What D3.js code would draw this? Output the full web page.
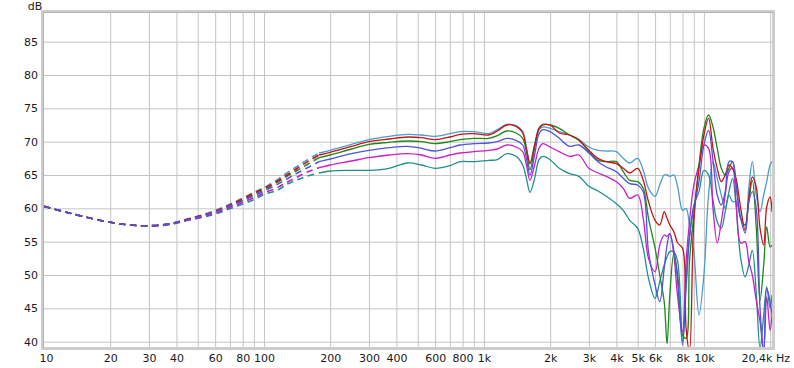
<!DOCTYPE html>
<html lang="en">
  <head>
    <meta charset="UTF-8" />
    <title>Frequency response</title>
    <style>
      body {
        margin: 0;
        background: #fff;
      }
      #chart text {
        font-family: "DejaVu Sans", Verdana, sans-serif;
        font-size: 11px;
        fill: #1a1a1a;
      }
    </style>
  </head>
  <body>
    <div id="chart"></div>

    <script src="https://d3js.org/d3.v7.min.js"></script>
    <script>
      // frequency points (Hz), shared by all curves
      const freqs = [
        10, 12, 15, 20, 27, 36, 45, 58, 72, 90, 100, 115, 127, 140, 156, 178,
        200, 250, 300, 370, 450, 520, 600, 700, 780, 900, 1050, 1150, 1270, 1400, 1500,
        1560, 1620, 1700, 1780, 1850, 2000, 2200,
        2450, 2700, 3000, 3300,
        3600, 4000, 4300, 4600, 5000,
        5300, 5600, 6000, 6300, 6600, 6800,
        7000, 7300, 7600, 8000, 8300, 8600,
        9000, 9500, 10000, 10500, 11000,
        11500, 12000, 12500, 13000, 13500,
        14000, 14700, 15400, 16000, 16600,
        17300, 18000, 18700, 19300, 20000,
        20400,
      ];
      // below this the curves are drawn dashed
      const dashedUpTo = 178;

      // dB values per curve
      const lightBlue = [
        60.3, 59.6, 58.8, 57.9, 57.4, 57.6, 58.4, 59.5, 60.8, 62.4, 63.1, 64.3, 65.3, 66.2, 67.2, 68.3,
        68.7, 69.6, 70.3, 70.8, 71.1, 71.0, 70.8, 71.2, 71.5, 71.5, 71.2, 71.8, 72.6, 72.4, 71.6,
        69.0, 66.8, 69.5, 71.8, 72.2, 72.0, 71.5,
        71.0, 70.3, 69.2, 68.7,
        68.6, 68.5, 67.5, 66.8, 67.5,
        65.7, 63.0, 61.8, 63.5, 65.0, 65.0,
        64.8, 65.0, 63.2, 59.7, 60.0, 57.5,
        53.5, 44.0, 50.0, 62.0, 67.0,
        64.5, 62.0, 60.0, 62.0, 61.0,
        61.0, 58.5, 57.5, 63.0, 67.0,
        62.0, 59.5, 62.0, 64.0, 66.5,
        67.0,
      ];
      const red = [
        60.3, 59.6, 58.8, 57.9, 57.4, 57.6, 58.4, 59.4, 60.7, 62.3, 63.0, 64.1, 65.0, 65.9, 66.9, 68.0,
        68.4, 69.3, 70.0, 70.4, 70.7, 70.6, 70.3, 70.7, 71.1, 71.2, 71.0, 71.6, 72.5, 72.3, 71.3,
        69.0, 66.7, 69.5, 72.0, 72.5, 72.5, 71.3,
        71.0, 70.3, 68.7, 67.5,
        67.0, 66.7, 66.0, 65.3, 66.0,
        64.2, 61.0, 58.2, 57.5, 59.5, 58.5,
        57.5, 56.5, 54.8, 54.0, 42.0, 38.5,
        58.0, 66.0, 71.0, 73.5, 69.0,
        66.0, 64.0, 65.0, 66.5, 66.0,
        64.5, 60.0, 56.7, 61.5, 64.7,
        63.2, 57.0, 54.5, 60.2, 61.7,
        59.5,
      ];
      const green = [
        60.3, 59.6, 58.8, 57.9, 57.4, 57.6, 58.3, 59.4, 60.6, 62.1, 62.8, 63.9, 64.8, 65.6, 66.5, 67.6,
        68.0, 68.9, 69.6, 69.9, 70.1, 70.0, 69.7, 70.0, 70.3, 70.5, 70.5, 70.9, 71.6, 71.3, 70.5,
        68.5, 65.8, 69.0, 72.0, 72.6, 72.5, 72.0,
        71.0, 70.2, 68.5, 67.2,
        67.0, 67.0, 65.5, 64.2, 64.0,
        63.0, 58.5, 54.0, 50.0, 46.0, 39.7,
        47.0, 53.2, 50.0, 41.0, 40.5, 52.0,
        59.0, 66.5, 72.0, 74.0, 72.2,
        69.0, 66.0, 65.0, 66.0, 67.0,
        64.0, 58.5, 57.5, 61.0, 64.2,
        57.2, 46.2, 51.5, 57.2, 54.2,
        54.5,
      ];
      const blue = [
        60.3, 59.6, 58.8, 57.9, 57.4, 57.6, 58.3, 59.3, 60.5, 61.9, 62.6, 63.6, 64.4, 65.2, 66.0, 67.0,
        67.4, 68.2, 68.7, 69.1, 69.3, 69.0, 68.6, 69.1, 69.5, 69.7, 69.8, 70.0, 70.5, 70.2, 69.5,
        67.5, 65.0, 68.0, 71.2, 71.8, 71.5, 70.5,
        69.3, 69.5, 68.3, 67.0,
        66.2, 65.5, 64.5, 63.7, 63.5,
        62.5, 53.5, 48.5, 46.0, 51.0, 54.5,
        56.2, 53.7, 49.0, 39.5, 49.0, 56.0,
        60.0, 64.0, 69.5, 71.7, 67.2,
        62.0, 60.5, 62.5, 67.0, 67.0,
        63.5, 58.5, 56.3, 61.0, 62.5,
        60.0, 45.0, 38.5, 48.0, 46.0,
        44.0,
      ];
      const magenta = [
        60.3, 59.6, 58.8, 57.9, 57.4, 57.5, 58.2, 59.1, 60.3, 61.6, 62.3, 63.1, 63.9, 64.6, 65.4, 66.1,
        66.5, 67.1, 67.6, 68.0, 68.2, 68.0, 67.5, 68.0, 68.3, 68.5, 68.7, 68.9, 69.5, 69.2, 68.5,
        66.5, 64.2, 66.5, 69.0, 69.7, 69.2, 68.5,
        67.8, 68.0, 66.0, 65.3,
        64.8, 64.0, 63.0, 61.5, 62.0,
        58.5, 52.5, 50.5, 54.5, 56.0, 55.8,
        56.2, 53.0, 46.7, 41.5, 52.0, 58.0,
        63.5, 66.5, 69.5, 69.0, 60.0,
        54.8, 58.0, 62.0, 65.5, 66.0,
        61.0, 54.8, 55.0, 52.0, 50.0,
        46.2, 43.0, 38.5, 46.7, 41.7,
        44.0,
      ];
      const teal = [
        60.3, 59.6, 58.8, 57.9, 57.4, 57.5, 58.2, 59.0, 60.1, 61.3, 62.1, 62.7, 63.6, 64.2, 64.8, 65.3,
        65.6, 65.7, 65.7, 66.0, 66.8, 66.5, 66.0, 66.4, 67.0, 67.0, 67.2, 67.3, 68.2, 67.8, 66.5,
        64.5, 62.4, 64.5, 67.3, 67.8, 67.3, 66.0,
        65.2, 64.8, 63.3, 62.6,
        61.8, 60.7, 59.7, 58.2, 57.0,
        54.0, 49.5, 46.5, 49.0, 51.5, 52.7,
        53.5, 53.5, 52.0, 40.0, 48.0, 55.5,
        60.5, 62.5, 65.7, 65.0, 61.2,
        58.0, 57.0, 59.5, 62.5, 64.5,
        60.5, 52.5, 49.7, 51.5, 53.7,
        47.3, 39.0, 44.0, 48.2, 45.0,
        47.0,
      ];

      // axis ticks
      const yTicks = [40, 45, 50, 55, 60, 65, 70, 75, 80, 85];
      const gridFreqs = [
        20, 30, 40, 50, 60, 70, 80, 90,
        100, 200, 300, 400, 500, 600, 700, 800, 900,
        1000, 2000, 3000, 4000, 5000, 6000, 7000, 8000, 9000,
        10000, 20000,
      ];
      const labelFreqs = [10, 20, 30, 40, 60, 80, 100, 200, 300, 400, 600, 800,
        1000, 2000, 3000, 4000, 5000, 6000, 8000, 10000];
      const labelTexts = ["10", "20", "30", "40", "60", "80", "100", "200", "300", "400", "600", "800",
        "1k", "2k", "3k", "4k", "5k", "6k", "8k", "10k"];
      const endLabel = "20,4k Hz";

      // draw order and colours
      const curves = [lightBlue, teal, magenta, green, red, blue];
      const colors = ["#4a9ccb", "#1e8f8f", "#c81ec8", "#1a8a1a", "#c81414", "#5252dc"];

      const width = 794, height = 368;
      const pLeft = 44, pRight = 772, pTop = 13, pBottom = 347;

      const x = d3.scaleLog().domain([10, 20400]).range([pLeft, pRight]);
      const y = d3.scaleLinear().domain([39.2, 89.3]).range([pBottom, pTop]);

      const svg = d3
        .select("#chart")
        .append("svg")
        .attr("width", width)
        .attr("height", height);

      svg.append("rect").attr("width", width).attr("height", height).attr("fill", "#fff");

      // frame (thick grey border)
      svg
        .append("rect")
        .attr("x", pLeft - 1.5)
        .attr("y", pTop - 1.5)
        .attr("width", pRight - pLeft + 3)
        .attr("height", pBottom - pTop + 3)
        .attr("fill", "#fff")
        .attr("stroke", "#cdcdcd")
        .attr("stroke-width", 3);
      svg
        .append("path")
        .attr("d", `M${pLeft - 0.5},${pBottom + 1}V${pTop - 0.5}H${pRight + 1}`)
        .attr("fill", "none")
        .attr("stroke", "#b2b2b2")
        .attr("stroke-width", 1);

      // grid lines
      const gridX = svg
        .append("g")
        .attr("transform", `translate(0,${pBottom})`)
        .call(d3.axisBottom(x).tickValues(gridFreqs).tickSize(-(pBottom - pTop)).tickFormat(""));
      const gridY = svg
        .append("g")
        .attr("transform", `translate(${pLeft},0)`)
        .call(d3.axisLeft(y).tickValues(yTicks).tickSize(-(pRight - pLeft)).tickFormat(""));
      [gridX, gridY].forEach((g) => {
        g.select(".domain").remove();
        g.selectAll("line").attr("stroke", "#c4c4c4").attr("stroke-width", 1);
      });

      // curves
      svg
        .append("clipPath")
        .attr("id", "plotClip")
        .append("rect")
        .attr("x", pLeft)
        .attr("y", pTop)
        .attr("width", pRight - pLeft)
        .attr("height", pBottom - pTop);

      const plot = svg.append("g").attr("clip-path", "url(#plotClip)");
      const line = d3
        .line()
        .x((d) => x(d[0]))
        .y((d) => y(d[1]))
        .curve(d3.curveCatmullRom.alpha(0.5));

      curves.forEach((vals, i) => {
        const pts = freqs.map((f, k) => [f, vals[k]]);
        plot
          .append("path")
          .attr("d", line(pts.filter((p) => p[0] <= dashedUpTo)))
          .attr("fill", "none")
          .attr("stroke", colors[i])
          .attr("stroke-width", 1.6)
          .attr("stroke-dasharray", "6.5,4.5");
        plot
          .append("path")
          .attr("d", line(pts.filter((p) => p[0] >= dashedUpTo)))
          .attr("fill", "none")
          .attr("stroke", colors[i])
          .attr("stroke-width", 1.3)
          .attr("stroke-linejoin", "round");
      });

      // tick labels
      const yAxis = svg
        .append("g")
        .attr("transform", `translate(${pLeft},0)`)
        .call(d3.axisLeft(y).tickValues(yTicks).tickSize(0).tickPadding(6));
      const xAxis = svg
        .append("g")
        .attr("transform", `translate(0,${pBottom})`)
        .call(
          d3
            .axisBottom(x)
            .tickValues(labelFreqs)
            .tickSize(0)
            .tickPadding(7)
            .tickFormat((d, i) => labelTexts[i])
        );
      [xAxis, yAxis].forEach((g) => {
        g.select(".domain").remove();
        g.attr("font-family", null).attr("font-size", null);
      });
      xAxis.selectAll(".tick text").filter((d) => d === 10).attr("dx", "2");

      svg
        .append("text")
        .attr("x", 790)
        .attr("y", 362)
        .attr("text-anchor", "end")
        .text(endLabel);

      svg
        .append("text")
        .attr("x", 35)
        .attr("y", 9.5)
        .attr("text-anchor", "middle")
        .text("dB");
    </script>
  </body>
</html>
